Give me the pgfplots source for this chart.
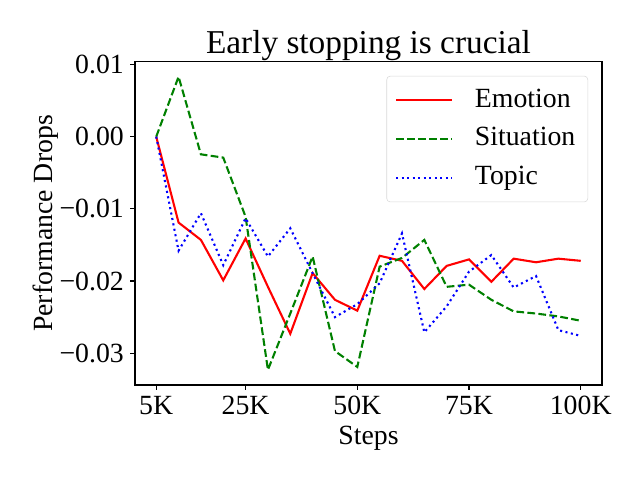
\documentclass[border=0pt]{standalone}
\usepackage{fontspec}
\setmainfont{Liberation Serif}
\usepackage{pgfplots}
\pgfplotsset{compat=1.18}
\definecolor{mplred}{RGB}{255,0,0}
\definecolor{mplgreen}{RGB}{0,128,0}
\definecolor{mplblue}{RGB}{0,0,255}
\begin{document}
\begin{tikzpicture}
\path[use as bounding box] (-97.2pt,-68.4pt) rectangle (363.6pt,277.2pt);
\begin{axis}[
  scale only axis,
  width=336.2pt, height=232.6pt,
  xmin=0.25, xmax=104.75,
  ymin=-0.0344, ymax=0.01035,
  scaled y ticks=false,
  axis line style={line width=0.8pt},
  every tick/.style={black, line width=0.8pt},
  major tick length=3.5pt,
  tick align=outside,
  tick pos=left,
  xtick={5,25,50,75,100},
  xticklabels={5K,25K,50K,75K,100K},
  ytick={-0.03,-0.02,-0.01,0,0.01},
  yticklabels={−0.03,−0.02,−0.01,0.00,0.01},
  ticklabel style={font=\fontsize{20}{24}\selectfont},
  xticklabel style={yshift=-1pt},
  yticklabel style={xshift=-1pt},
  xlabel={Steps},
  ylabel={Performance Drops},
  label style={font=\fontsize{20}{24}\selectfont},
  xlabel style={yshift=-1pt},
  ylabel style={yshift=-6pt},
  title={Early stopping is crucial},
  every axis title shift=0pt,
  title style={font=\fontsize{24}{28}\selectfont, at={(0.5,1)}, anchor=base, yshift=6pt},
  legend style={at={(1,1)}, anchor=north east, xshift=-10pt, yshift=-10pt,
    draw=black!15, rounded corners=2.5pt, fill=white, fill opacity=0.8, text opacity=1,
    font=\fontsize{20}{24}\selectfont, row sep=6pt, column sep=13pt,
    inner xsep=6pt, inner ysep=6.3pt,
    nodes={inner xsep=3pt, inner ysep=2pt, text height=14pt, text depth=4pt}},
  legend cell align=left,
  legend image code/.code={\draw[#1] (0pt,0pt) -- (40pt,0pt);},
]
\addplot[mplred, line width=1.5pt, solid] coordinates {
(5,0) (10,-0.0119) (15,-0.0143) (20,-0.0199) (25,-0.0141) (30,-0.0208)
(35,-0.0273) (40,-0.0189) (45,-0.0226) (50,-0.0241) (55,-0.0165)
(60,-0.0172) (65,-0.0211) (70,-0.0179) (75,-0.0170) (80,-0.0201)
(85,-0.0169) (90,-0.0174) (95,-0.0169) (100,-0.0172)};
\addlegendentry{Emotion}
\addplot[mplgreen, line width=1.5pt, dash pattern=on 5.55pt off 2.4pt] coordinates {
(5,0) (10,0.0083) (15,-0.00245) (20,-0.0029) (25,-0.0111) (30,-0.0323)
(35,-0.0245) (40,-0.0166) (45,-0.0297) (50,-0.0319) (55,-0.0180)
(60,-0.0168) (65,-0.0143) (70,-0.0208) (75,-0.0205) (80,-0.0226)
(85,-0.0242) (90,-0.0245) (95,-0.0249) (100,-0.0255)};
\addlegendentry{Situation}
\addplot[mplblue, line width=1.5pt, dash pattern=on 1.5pt off 2.475pt] coordinates {
(5,0) (10,-0.0158) (15,-0.0106) (20,-0.0178) (25,-0.0113) (30,-0.0166)
(35,-0.0127) (40,-0.0189) (45,-0.0250) (50,-0.0232) (55,-0.0203)
(60,-0.0134) (65,-0.0271) (70,-0.0235) (75,-0.0187) (80,-0.0164)
(85,-0.0209) (90,-0.0193) (95,-0.0268) (100,-0.0276)};
\addlegendentry{Topic}
\end{axis}
\end{tikzpicture}
\end{document}
